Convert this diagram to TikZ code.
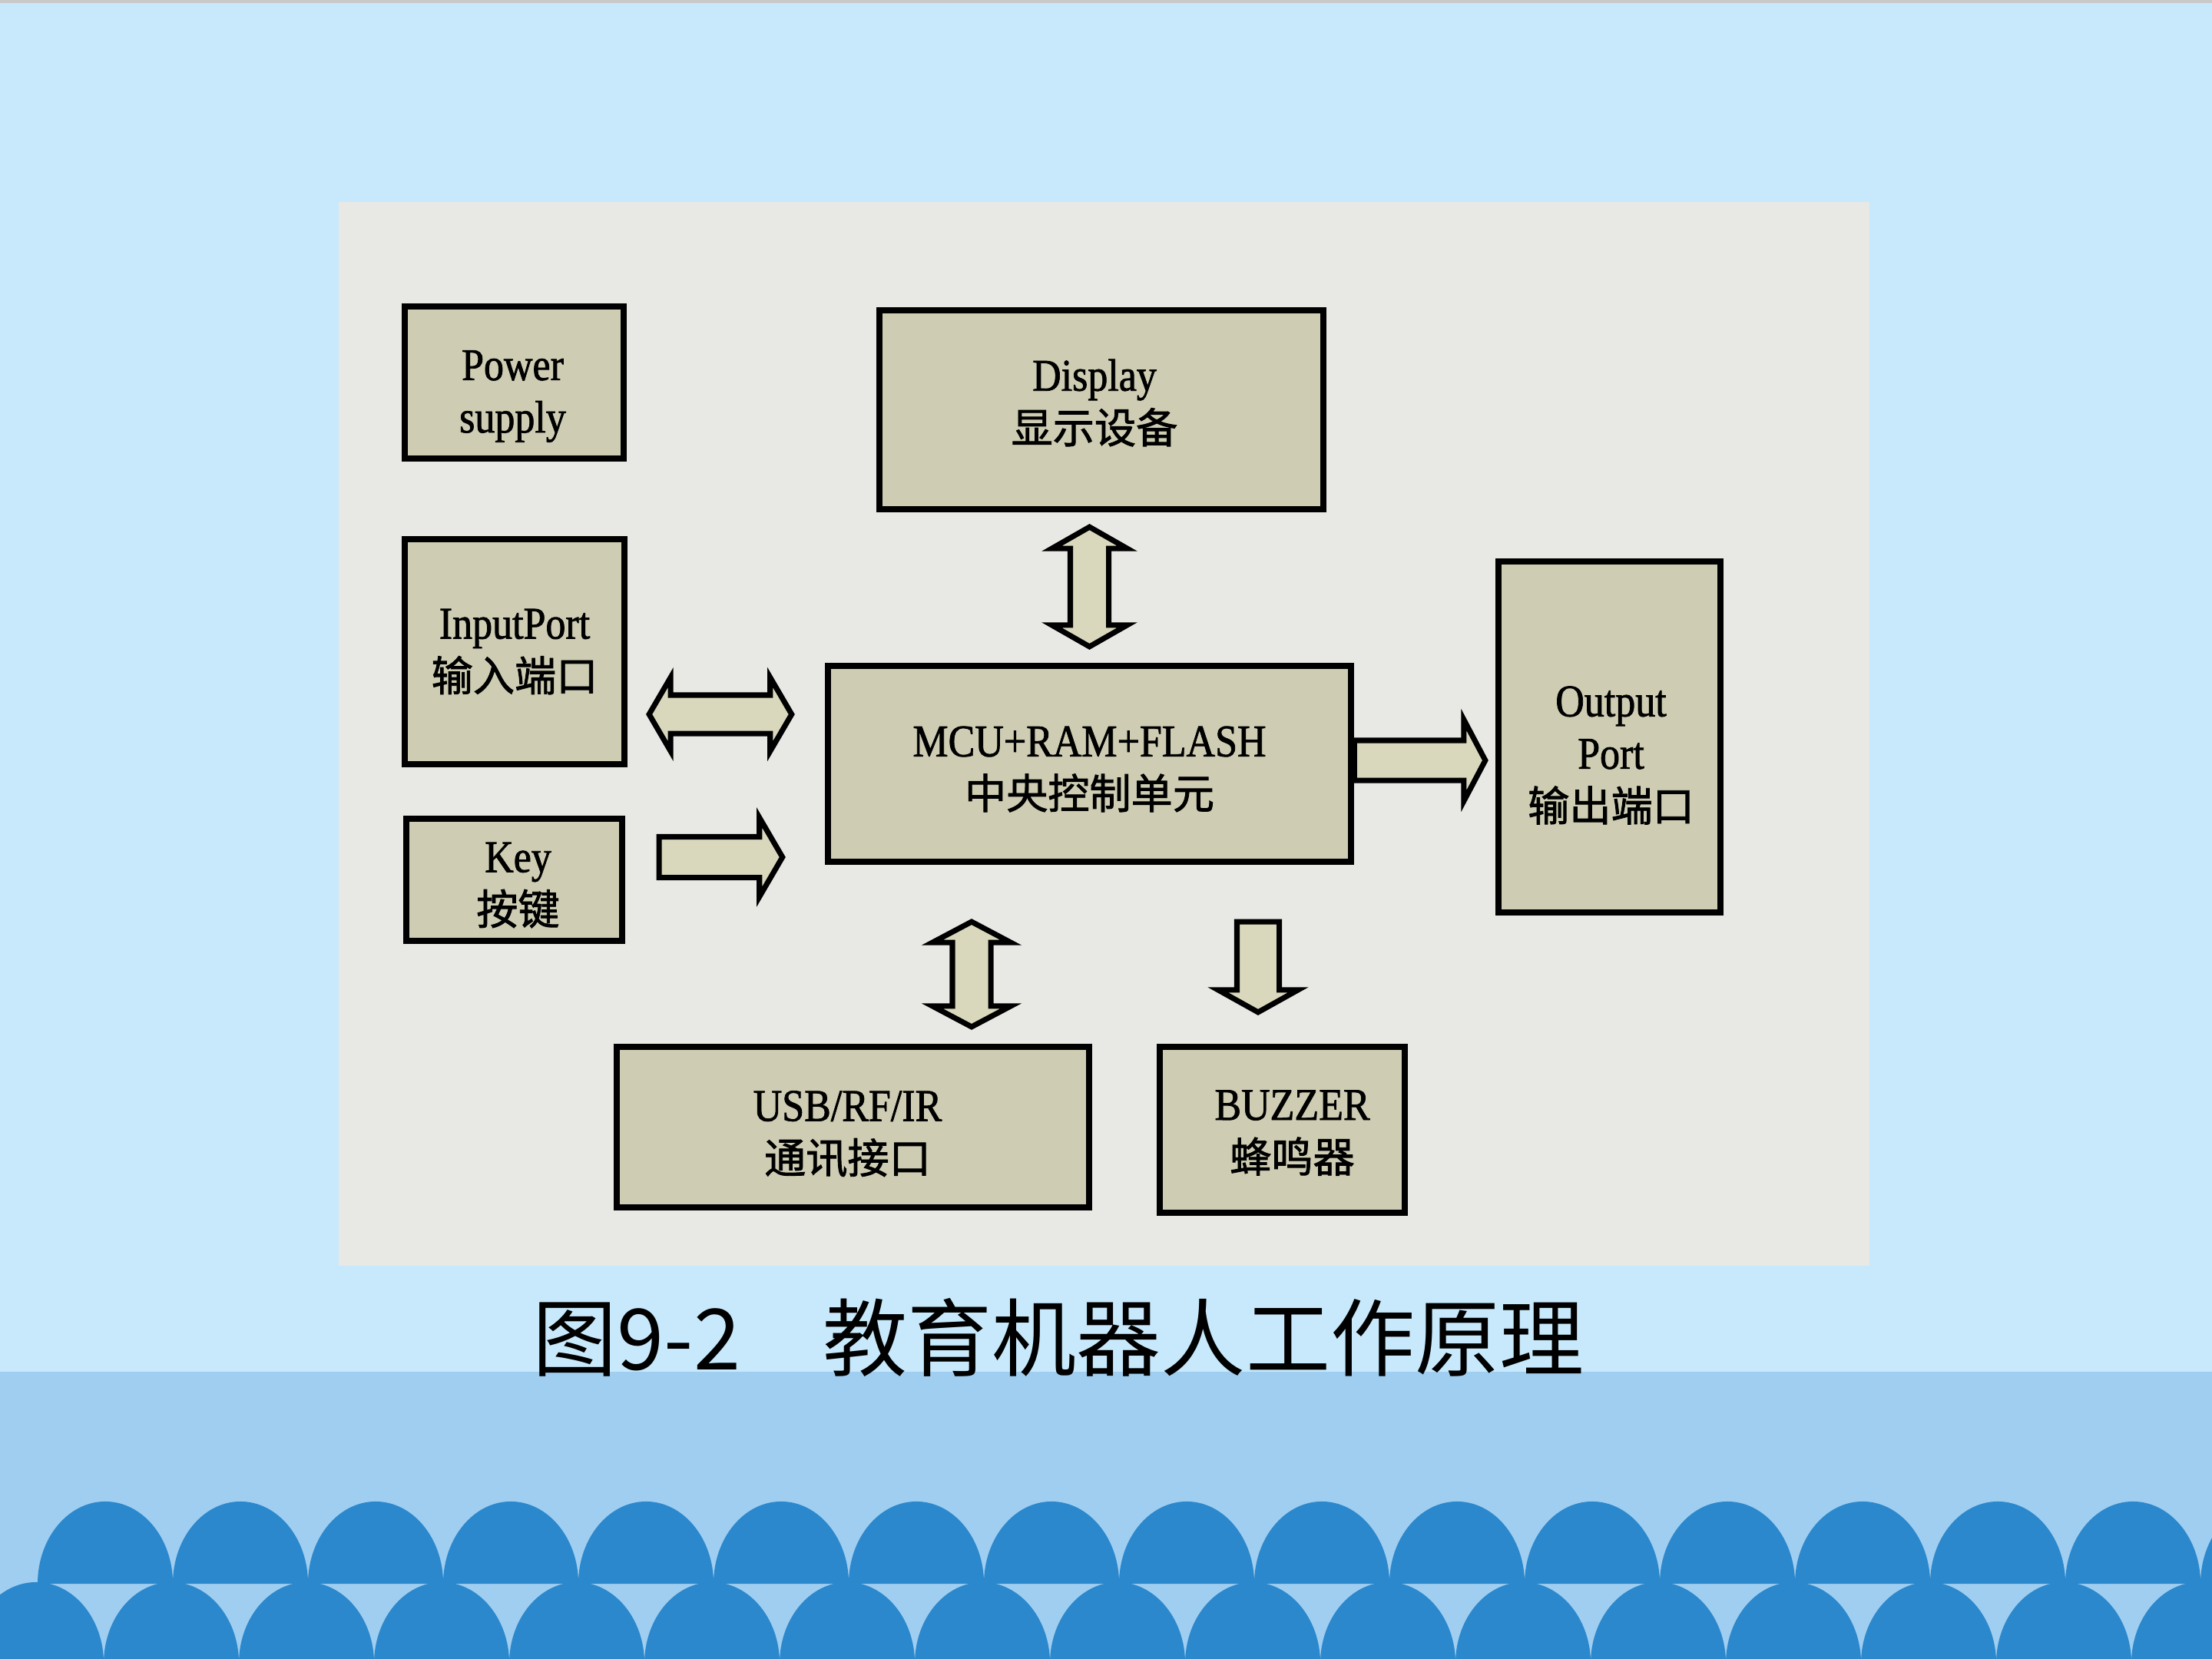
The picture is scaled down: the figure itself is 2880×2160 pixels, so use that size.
\documentclass[tikz,border=0pt]{standalone}
\usepackage{fontspec}
\usetikzlibrary{calc}
\newfontfamily\cjkfont{Noto Sans CJK SC}
\newfontfamily\cjkboxfont[FakeBold=1.6]{Noto Sans CJK SC}
\newfontfamily\latfont[FakeStretch=0.88,FakeBold=1.3]{Liberation Serif}
\definecolor{bgtop}{HTML}{C7E9FB}
\definecolor{bgband}{HTML}{A0CEF0}
\definecolor{wavecol}{HTML}{2B88CD}
\definecolor{photo}{HTML}{E8E8E4}
\definecolor{boxfill}{HTML}{CECDB3}
\definecolor{arrowfill}{HTML}{D9D8BD}
\newcommand\boxfont{\latfont\fontsize{16.8}{19.4}\selectfont}
\newcommand\zh[1]{{\cjkboxfont\fontsize{15.4}{19.4}\selectfont #1}}
\newcommand\capfont{\cjkfont\fontsize{31.3}{36}\selectfont}
\tikzset{
  blockbox/.style={draw=black, line width=2.3pt, fill=boxfill, inner sep=0pt},
  boxtext/.style={inner sep=0pt, align=center, font=\boxfont},
  barrow/.style={draw=black, line width=2pt, fill=arrowfill, line join=miter},
}
% single block arrow: start, tip, shaft half width, head half width, head length
\newcommand\sarrow[5]{%
  \coordinate (hb) at ($(#2)!#5!(#1)$);
  \draw[barrow] ($(#1)!#3!90:(#2)$) -- ($(hb)!#3!-90:(#1)$) -- ($(hb)!#4!-90:(#1)$) -- (#2)
    -- ($(hb)!#4!90:(#1)$) -- ($(hb)!#3!90:(#1)$) -- ($(#1)!#3!-90:(#2)$) -- cycle;
}
% double block arrow
\newcommand\darrow[5]{%
  \coordinate (ha) at ($(#1)!#5!(#2)$);
  \coordinate (hb) at ($(#2)!#5!(#1)$);
  \draw[barrow] (#1) -- ($(ha)!#4!90:(#2)$) -- ($(ha)!#3!90:(#2)$) -- ($(hb)!#3!-90:(#1)$)
    -- ($(hb)!#4!-90:(#1)$) -- (#2) -- ($(hb)!#4!90:(#1)$) -- ($(hb)!#3!90:(#1)$)
    -- ($(ha)!#3!-90:(#2)$) -- ($(ha)!#4!-90:(#2)$) -- cycle;
}
\begin{document}
\begin{tikzpicture}[x=0.01cm, y=-0.01cm]
\useasboundingbox (0,0) rectangle (2880,2160);
\clip (0,0) rectangle (2880,2160);
% background
\fill[bgtop] (0,0) rectangle (2880,1786);
\fill[black!21] (0,0) rectangle (2880,4);
\fill[bgband] (0,1786) rectangle (2880,2160);
% waves
\foreach \k in {0,...,16} {
  \fill[wavecol] ({49+176*\k},2062) arc[start angle=180, end angle=0, x radius=0.88cm, y radius=1.07cm] -- cycle;
}
\foreach \k in {0,...,17} {
  \fill[wavecol] ({-41+176*\k},2166) arc[start angle=180, end angle=0, x radius=0.88cm, y radius=1.06cm] -- cycle;
}
% photo area
\fill[photo] (441,263) rectangle (2434,1648);
% boxes
\node[blockbox, minimum width=2.85cm, minimum height=1.98cm] (power) at (669.5,498) {};
\node[blockbox, minimum width=5.78cm, minimum height=2.59cm] (display) at (1434,533.5) {};
\node[blockbox, minimum width=2.86cm, minimum height=2.93cm] (input) at (670,848.5) {};
\node[blockbox, minimum width=2.81cm, minimum height=1.59cm] (key) at (669.5,1145.5) {};
\node[blockbox, minimum width=6.81cm, minimum height=2.55cm] (mcu) at (1418.5,994.5) {};
\node[blockbox, minimum width=2.89cm, minimum height=4.57cm] (output) at (2095.5,959.5) {};
\node[blockbox, minimum width=6.15cm, minimum height=2.09cm] (usb) at (1110.5,1467.5) {};
\node[blockbox, minimum width=3.19cm, minimum height=2.16cm] (buzzer) at (1669.5,1471) {};
% box texts
\node[boxtext] (power-t) at ($(power.center)+(-2,18)$) {Power\\supply};
\node[boxtext] (display-t) at ($(display.center)+(-9,-9)$) {Display\\\zh{显示设备}};
\node[boxtext] (input-t) at ($(input.center)+(0,0)$) {InputPort\\\zh{输入端口}};
\node[boxtext] (key-t) at ($(key.center)+(5,7)$) {Key\\\zh{按键}};
\node[boxtext] (mcu-t) at ($(mcu.center)+(0,7)$) {MCU+RAM+FLASH\\\zh{中央控制单元}};
\node[boxtext] (output-t) at ($(output.center)+(2,24)$) {Output\\Port\\\zh{输出端口}};
\node[boxtext] (usb-t) at ($(usb.center)+(-7,9)$) {USB/RF/IR\\\zh{通讯接口}};
\node[boxtext] (buzzer-t) at ($(buzzer.center)+(13,4)$) {BUZZER\\\zh{蜂鸣器}};
% arrow end points
\coordinate (d1) at ($(display.south -| mcu.north)+(0,19)$);
\coordinate (d2) at ($(mcu.north)+(0,-21)$);
\coordinate (i1) at ($(input.east)+(28,81.5)$);
\coordinate (i2) at ($(mcu.west)+(-43,-64.5)$);
\coordinate (k1) at ($(key.east)+(44,-29.5)$);
\coordinate (k2) at ($(mcu.west)+(-55,121.5)$);
\coordinate (o1) at ($(mcu.east)+(0,-4.5)$);
\coordinate (o2) at ($(output.west)+(-13,30.5)$);
\coordinate (u1) at ($(mcu.south)+(-153.5,74)$);
\coordinate (u2) at ($(usb.north)+(154.5,-22)$);
\coordinate (b1) at ($(mcu.south)+(219.5,74)$);
\coordinate (b2) at ($(buzzer.north)+(-31.5,-41)$);
% arrows
\darrow{d1}{d2}{0.25cm}{0.49cm}{0.28cm}
\darrow{i1}{i2}{0.25cm}{0.48cm}{0.28cm}
\sarrow{k1}{k2}{0.265cm}{0.515cm}{0.30cm}
\sarrow{o1}{o2}{0.26cm}{0.53cm}{0.28cm}
\darrow{u1}{u2}{0.25cm}{0.51cm}{0.27cm}
\sarrow{b1}{b2}{0.275cm}{0.52cm}{0.29cm}
% caption
\node[anchor=base west, inner sep=0pt, font=\capfont] (capnum) at (693,1783) {图9-2};
\node[anchor=base west, inner sep=0pt, font=\capfont] (captext) at (1071,1783) {教育机器人工作原理};
\end{tikzpicture}
\end{document}
